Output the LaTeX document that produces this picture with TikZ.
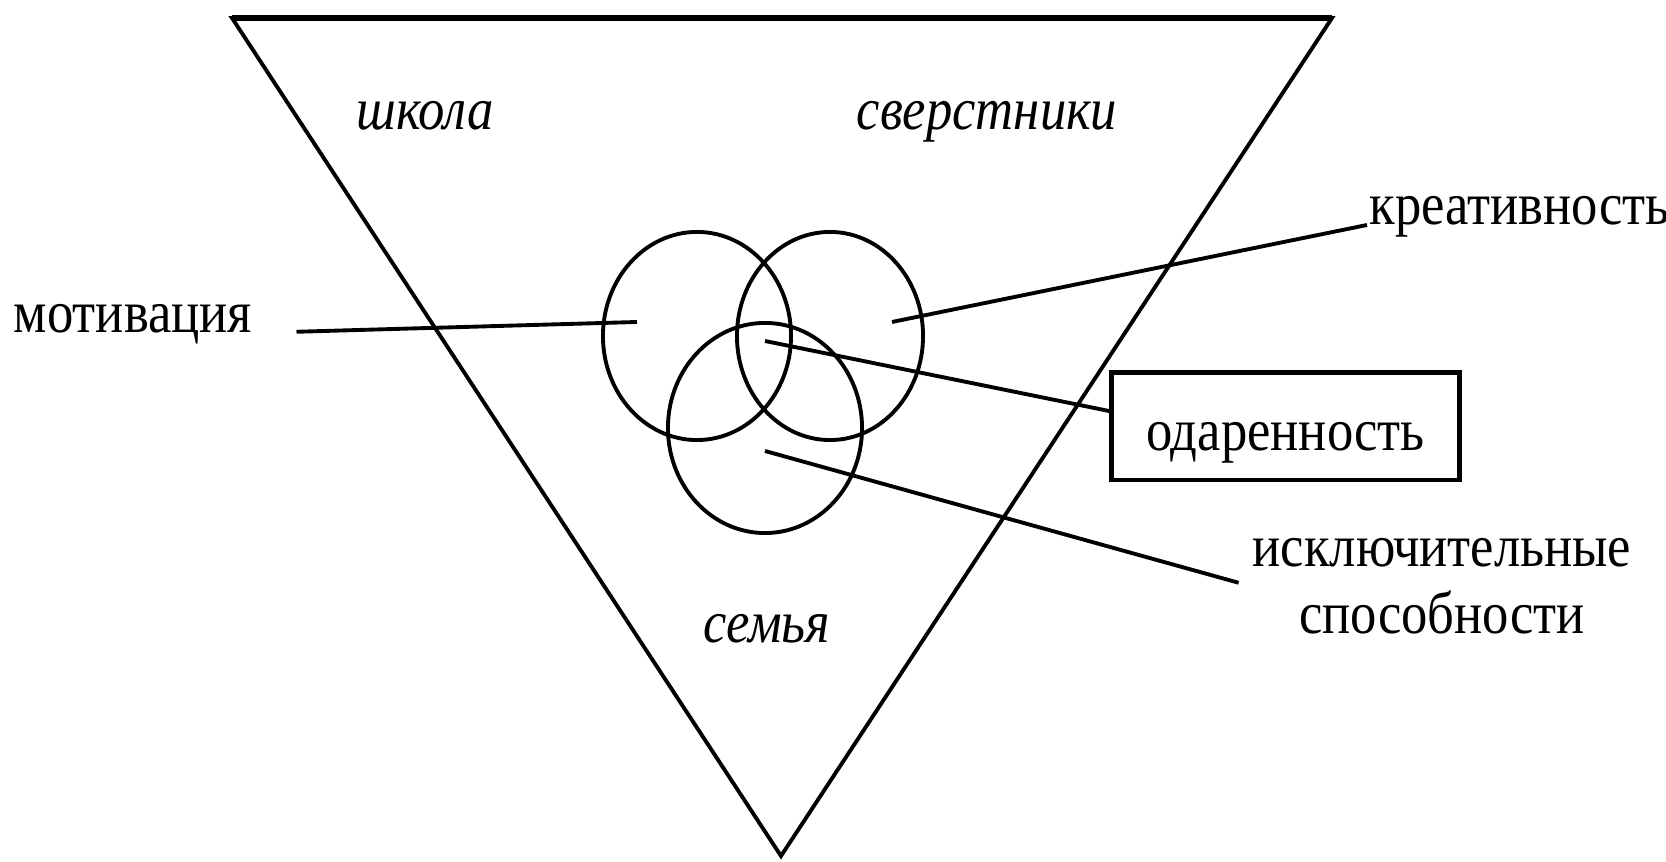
\documentclass[tikz,border=0pt]{standalone}
\usepackage{fontspec}
\setmainfont[FakeStretch=0.88]{Liberation Serif}
\newcommand{\schemefont}{\fontsize{17}{19}\selectfont}

\begin{document}
\begin{tikzpicture}[
  x=0.01cm, y=-0.01cm,
  every node/.style={font=\schemefont},
  lab/.style={inner sep=0.5pt},
  ital/.style={inner sep=0.5pt,font=\schemefont\itshape},
  framed/.style={draw,line width=1.4pt,minimum width=3.47cm,minimum height=1.07cm,
    text height=0.55cm,text depth=0.08cm,inner sep=0pt},
  link/.style={line width=1.1pt},
  ring/.style={line width=1.1pt}
]
\useasboundingbox (0,0) rectangle (1666,862);

% outer triangle
\draw[line width=1.1pt,line join=miter] (232,18) -- (1332,18) -- (781,856) -- cycle;
\draw[line width=1.5pt] (232,18) -- (1332,18);

% three overlapping rings
\draw[ring] (697,336) ellipse [x radius=0.94cm,y radius=1.04cm];
\draw[ring] (830,336) ellipse [x radius=0.93cm,y radius=1.04cm];
\draw[ring] (765,428) ellipse [x radius=0.97cm,y radius=1.05cm];

% labels
\node[ital,anchor=base] (school) at (425,130) {школа};
\node[ital,anchor=base] (peers) at (987,130) {сверстники};
\node[ital,anchor=base] (family) at (767,643) {семья};
\node[lab,anchor=base] (motiv) at (133,333) {мотивация};
\node[lab,anchor=base west] (creat) at (1367,225) {креативность};
\node[framed] (gift) at (1285.5,426.5) {одаренность};
\node[lab,align=center] (abil) at (1442,586) {исключительные\\способности};

\coordinate (motiv-in) at (637,322);
\coordinate (creat-in) at (892,322);
\coordinate (gift-in) at (765,341);
\coordinate (abil-in) at (765,451);

% leader lines
\draw[link,shorten <=0.42cm] (motiv.base east) -- (motiv-in);
\draw[link] (creat-in) -- (creat.base west);
\draw[link] (gift-in) -- (gift.175);
\draw[link,shorten >=0.12cm] (abil-in) -- (abil.west);

\end{tikzpicture}
\end{document}
